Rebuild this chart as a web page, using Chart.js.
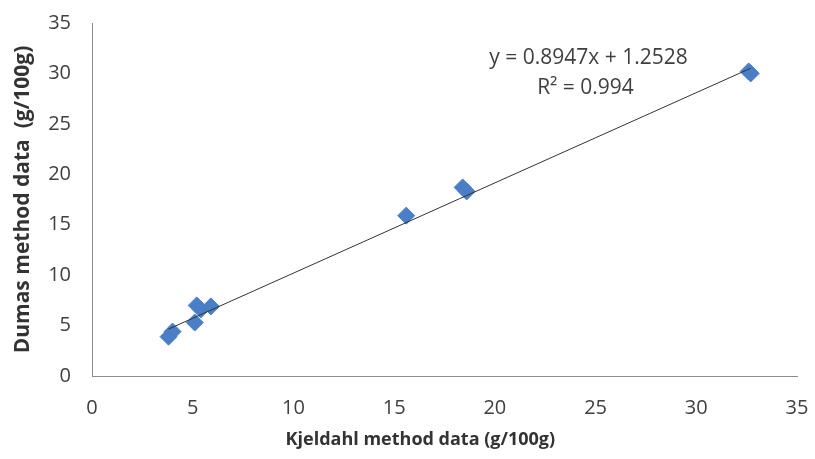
<!DOCTYPE html>
<html lang="en">
<head>
<meta charset="UTF-8">
<title>Dumas vs Kjeldahl</title>
<script src="https://cdn.jsdelivr.net/npm/chart.js"></script>
<style>
  html, body { margin: 0; padding: 0; background: #fff; }
  #wrap { width: 815px; height: 459px; position: relative; }
</style>
</head>
<body>
<div id="wrap"><canvas id="myChart"></canvas></div>
<script>
    // values
    var kjeldahl = [3.8, 4.0, 5.1, 5.2, 5.4, 5.9, 15.6, 18.4, 18.6, 32.6, 32.7];
    var dumas    = [3.9, 4.4, 5.3, 7.0, 6.6, 6.9, 15.9, 18.7, 18.3, 30.2, 30.0];
    var slope = 0.8947, intercept = 1.2528;
    var eqLines = ['y = 0.8947x + 1.2528', 'R\u00B2 = 0.994'];
    var xTitle = 'Kjeldahl method data (g/100g)';
    var yTitle = 'Dumas method data  (g/100g)';
    var fontName = 'Open Sans';

    var points = [];
    for (var i = 0; i < kjeldahl.length; i++) {
        points.push({x: kjeldahl[i], y: dumas[i]});
    }
    var xMin = Math.min.apply(null, kjeldahl), xMax = Math.max.apply(null, kjeldahl);
    var trend = [
        {x: xMin, y: slope * xMin + intercept},
        {x: xMax, y: slope * xMax + intercept}
    ];

    // equation text + x title (excel puts the title a bit left of plot centre)
    var extraText = {
        id: 'extraText',
        afterDatasetsDraw: function(chart) {
            var ctx = chart.ctx, xs = chart.scales.x, ys = chart.scales.y;
            ctx.save();
            ctx.fillStyle = '#404040';
            ctx.font = '21px "' + fontName + '"';
            ctx.textAlign = 'center';
            ctx.textBaseline = 'middle';
            ctx.fillText(eqLines[0], xs.getPixelForValue(24.65), ys.getPixelForValue(31.5));
            ctx.fillText(eqLines[1], xs.getPixelForValue(24.5), ys.getPixelForValue(28.6));
            ctx.fillStyle = '#333333';
            ctx.font = 'bold 18px "' + fontName + '"';
            ctx.fillText(xTitle, xs.getPixelForValue(16.3), chart.height - 19);
            ctx.restore();
        }
    };

    var chart = new Chart(document.getElementById('myChart'), {
        type: 'scatter',
        data: {
            datasets: [
                {
                    label: 'Linear',
                    data: trend,
                    showLine: true,
                    borderColor: '#333333',
                    borderWidth: 1,
                    pointRadius: 0,
                    order: 0
                },
                {
                    label: 'Data',
                    data: points,
                    pointStyle: 'rectRot',
                    pointRadius: 8.5,
                    pointHoverRadius: 8.5,
                    backgroundColor: '#4A7EC6',
                    borderColor: '#4A7EC6',
                    borderWidth: 1,
                    order: 1
                }
            ]
        },
        options: {
            responsive: true,
            maintainAspectRatio: false,
            animation: false,
            layout: { padding: { top: 23, right: 18, left: 0, bottom: 0 } },
            plugins: { legend: { display: false }, tooltip: { enabled: false } },
            scales: {
                x: {
                    type: 'linear',
                    min: 0, max: 35,
                    ticks: { stepSize: 5, color: '#404040', padding: 20, font: { size: 20, family: fontName } },
                    grid: { display: false, drawTicks: false },
                    border: { display: true, color: '#8c8c8c', width: 1 },
                    title: { display: false },
                    afterFit: function(s) { s.height = 83; s.paddingLeft = 0; s.paddingRight = 0; }
                },
                y: {
                    min: 0, max: 35,
                    ticks: { stepSize: 5, color: '#404040', padding: 21, font: { size: 20, family: fontName } },
                    grid: { display: false, drawTicks: false },
                    border: { display: true, color: '#8c8c8c', width: 1 },
                    title: {
                        display: true,
                        text: yTitle,
                        color: '#333333',
                        font: { size: 21, weight: 'bold', family: fontName },
                        padding: { top: 10, bottom: 0 }
                    },
                    afterFit: function(s) { s.width = 92; s.paddingTop = 0; s.paddingBottom = 0; }
                }
            }
        },
        plugins: [extraText]
    });
</script>
</body>
</html>
